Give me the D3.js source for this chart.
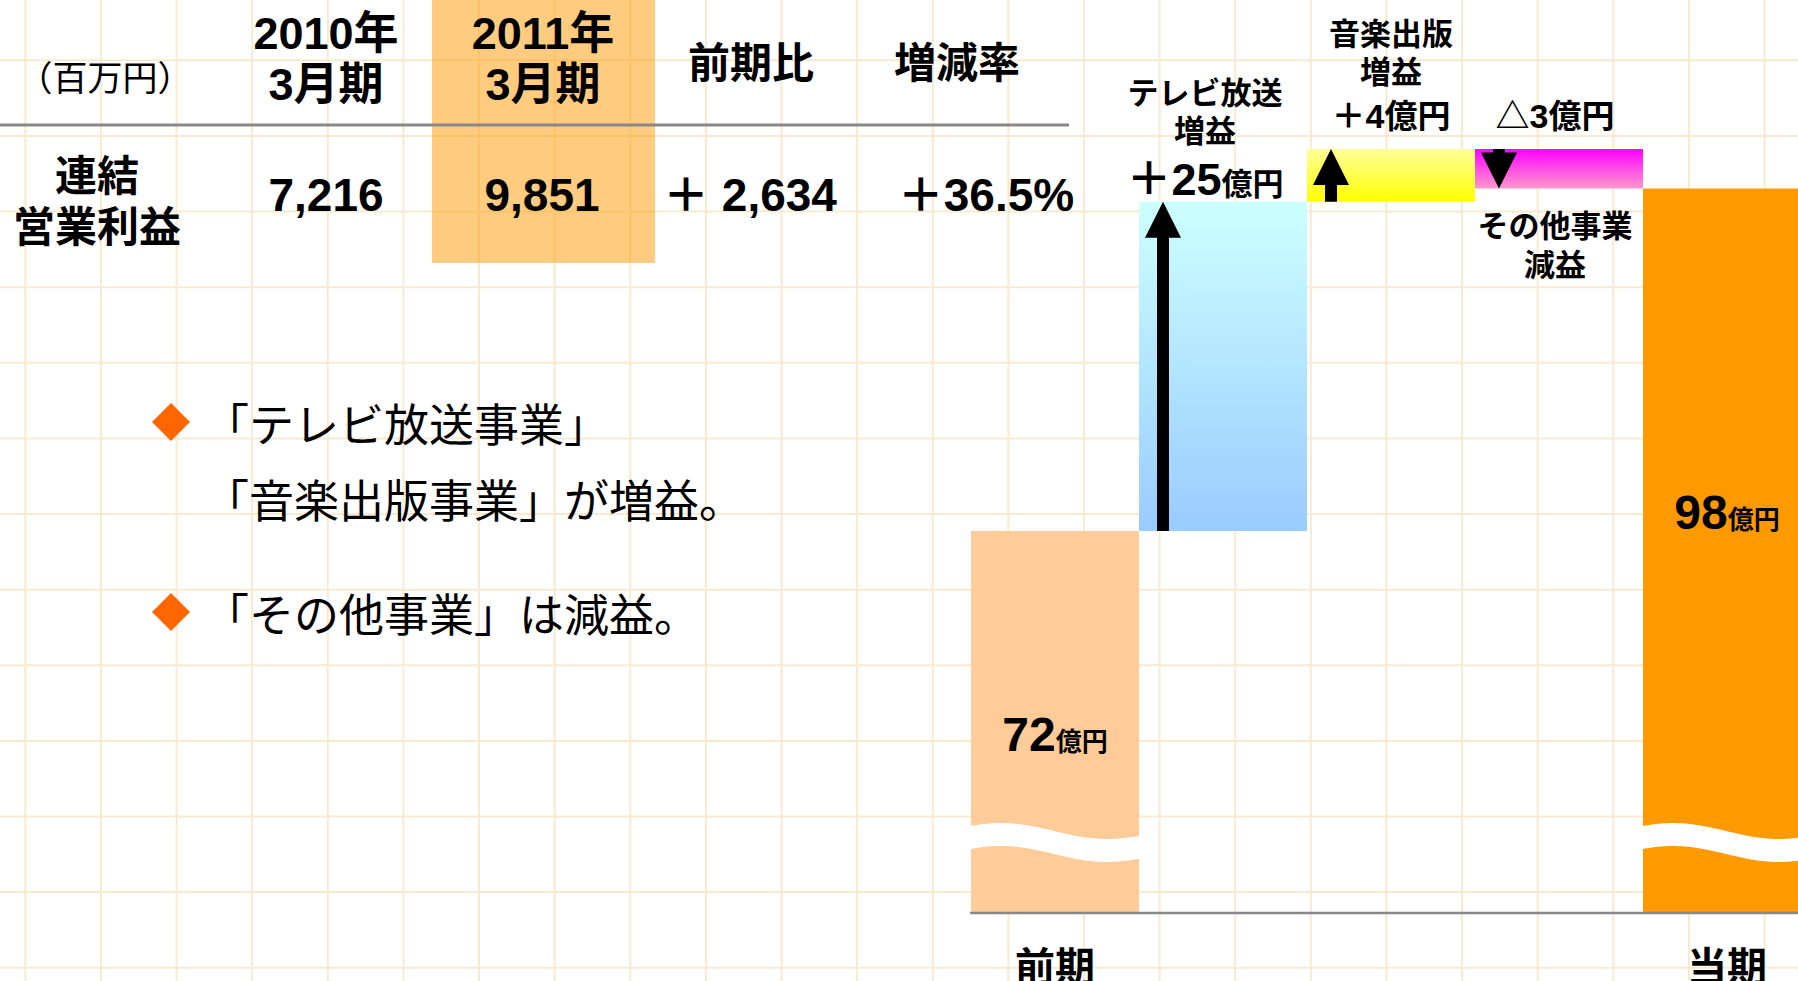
<!DOCTYPE html>
<html lang="ja">
<head>
<meta charset="utf-8">
<title>連結営業利益</title>
<script src="https://cdn.jsdelivr.net/npm/d3@7"></script>
<style>
  html, body { margin: 0; padding: 0; background: #fff; overflow: hidden; }
  svg { display: block; }
</style>
</head>
<body>
<svg id="chart" width="1798" height="981"></svg>
<script>
// ---- table data (百万円)
var unitLabel = '（百万円）';
var rowLabel = ['連結', '営業利益'];
var headYears = ['2010年', '2011年'];
var headPeriod = '3月期';
var headOthers = ['前期比', '増減率'];
var tableValues = ['7,216', '9,851', '＋ 2,634', '＋36.5%'];

// ---- bullet comments
var bullets = [
  ['「テレビ放送事業」', '「音楽出版事業」が増益。'],
  ['「その他事業」は減益。']
];

// ---- waterfall data (億円)
var steps = ['前期', 'テレビ放送', '音楽出版', 'その他事業', '当期'];
var stepValues = [72, 25, 4, -3, 98];
var stepIsTotal = [true, false, false, false, true];
var stepNotes = ['', '増益', '増益', '減益', ''];
var unit = '億円';

var JP = "'Noto Sans CJK JP', sans-serif";
var NUM = "'Liberation Sans', 'Noto Sans CJK JP', sans-serif";

var W = 1798, H = 981;
var svg = d3.select('#chart');

svg.append('rect').attr('width', W).attr('height', H).attr('fill', '#fff');

// graph paper grid
var gridStep = 75.62;
var grid = svg.append('g').attr('stroke', '#f8ead0').attr('stroke-width', 2);
grid.selectAll('line.v').data(d3.range(25.3, W, gridStep)).enter()
  .append('line').attr('class', 'v')
  .attr('x1', function(d){ return d; }).attr('x2', function(d){ return d; })
  .attr('y1', 0).attr('y2', H);
grid.selectAll('line.h').data(d3.range(60.3 - gridStep, H, gridStep)).enter()
  .append('line').attr('class', 'h')
  .attr('y1', function(d){ return d; }).attr('y2', function(d){ return d; })
  .attr('x1', 0).attr('x2', W);

// multi-line centred text as one element
function lines(sel, xPos, yList, texts){
  var t = sel.append('text')
    .attr('text-anchor', 'middle').attr('dominant-baseline', 'central');
  texts.forEach(function(s, j){
    t.append('tspan').attr('x', xPos).attr('y', yList[j])
      .attr('dominant-baseline', 'central').text(s);
  });
  return t;
}

// ---- table
var colX = [326, 543, 751, 957];
var valX = [326, 542, 750, 986];

svg.append('rect')
  .attr('x', 432).attr('y', 0).attr('width', 223).attr('height', 263)
  .attr('fill', '#ff9900').attr('fill-opacity', 0.5);

svg.append('line')
  .attr('x1', 0).attr('x2', 1069).attr('y1', 125).attr('y2', 125)
  .attr('stroke', '#888').attr('stroke-width', 3);

svg.append('text')
  .attr('x', 105).attr('y', 75)
  .attr('text-anchor', 'middle').attr('dominant-baseline', 'central')
  .style('font-family', JP).style('font-size', '35px')
  .text(unitLabel);

headYears.forEach(function(t, i){
  var tx = svg.append('text').attr('text-anchor', 'middle')
    .style('font-family', NUM).style('font-size', '45px').style('font-weight', 700);
  tx.append('tspan').attr('x', colX[i]).attr('y', 49).text(t);
  tx.append('tspan').attr('x', colX[i]).attr('y', 100).text(headPeriod);
});
headOthers.forEach(function(t, i){
  svg.append('text')
    .attr('x', colX[i + 2]).attr('y', 59)
    .attr('text-anchor', 'middle').attr('dominant-baseline', 'central')
    .style('font-family', JP).style('font-size', '42px').style('font-weight', 700)
    .text(t);
});

lines(svg, 97, [172, 223], rowLabel)
  .style('font-family', JP).style('font-size', '42px').style('font-weight', 700);

tableValues.forEach(function(t, i){
  svg.append('text')
    .attr('x', valX[i]).attr('y', 211)
    .attr('text-anchor', 'middle')
    .style('font-family', NUM).style('font-size', '46px').style('font-weight', 700)
    .text(t);
});

// ---- bullets
var lineY = [[422, 498], [612]];
bullets.forEach(function(ls, i){
  var cy = lineY[i][0];
  svg.append('path')
    .attr('d', 'M171,' + (cy - 19) + 'L190,' + cy + 'L171,' + (cy + 19) + 'L152,' + cy + 'Z')
    .attr('fill', '#ff6600');
  var t = svg.append('text')
    .attr('dominant-baseline', 'central')
    .style('font-family', JP).style('font-size', '45px');
  ls.forEach(function(s, j){
    t.append('tspan').attr('x', 204).attr('y', lineY[i][j])
      .attr('dominant-baseline', 'central').text(s);
  });
});

// ---- waterfall
var x = d3.scaleBand().domain(steps).range([971, 1811]).padding(0);
var y = d3.scaleLinear().domain([43, 101]).range([913, 149]); // axis is broken below 72
var floor = y.domain()[0];

var run = 0;
var segs = steps.map(function(s, i){
  var v = stepValues[i], lo, hi;
  if (stepIsTotal[i]) { lo = floor; hi = v; run = v; }
  else { lo = Math.min(run, run + v); hi = Math.max(run, run + v); run += v; }
  return { name: s, value: v, lo: lo, hi: hi, total: stepIsTotal[i], note: stepNotes[i], i: i };
});

var fills = {
  '前期': '#ffcc99',
  'テレビ放送': ['#ccffff', '#99ccff'],
  '音楽出版': ['#ffff99', '#ffff00'],
  'その他事業': ['#ff00ff', '#ff99cc'],
  '当期': '#ff9900'
};

var defs = svg.append('defs');
segs.filter(function(d){ return !d.total; }).forEach(function(d){
  var g = defs.append('linearGradient').attr('id', 'g' + d.i)
    .attr('x1', 0).attr('y1', 0).attr('x2', 0).attr('y2', 1);
  g.append('stop').attr('offset', '0%').attr('stop-color', fills[d.name][0]);
  g.append('stop').attr('offset', '100%').attr('stop-color', fills[d.name][1]);
});

svg.selectAll('rect.bar').data(segs).enter()
  .append('rect').attr('class', 'bar')
  .attr('x', function(d){ return x(d.name); })
  .attr('y', function(d){ return y(d.hi); })
  .attr('width', x.bandwidth())
  .attr('height', function(d){ return y(d.lo) - y(d.hi); })
  .attr('fill', function(d){ return d.total ? fills[d.name] : 'url(#g' + d.i + ')'; });

// wavy break on total bars
var baseY = y(floor);
var wave = function(dx){ return baseY - 82 - 8 * Math.cos(2 * Math.PI * (dx - 30) / 212); };
segs.filter(function(d){ return d.total; }).forEach(function(d){
  var x0 = x(d.name), pts = d3.range(0, x.bandwidth() + 1, 4);
  var top = pts.map(function(dx){ return [x0 + dx, wave(dx)]; });
  var bot = pts.slice().reverse().map(function(dx){ return [x0 + dx, wave(dx) + 23]; });
  svg.append('path')
    .attr('d', 'M' + top.concat(bot).map(function(p){ return p.join(','); }).join('L') + 'Z')
    .attr('fill', '#fff');
});

svg.append('line')
  .attr('x1', x('前期') - 1).attr('x2', W).attr('y1', baseY).attr('y2', baseY)
  .attr('stroke', '#888').attr('stroke-width', 2.5);

// arrows on change bars
segs.filter(function(d){ return !d.total; }).forEach(function(d){
  var cx = x(d.name) + 24, up = d.value > 0;
  var from = up ? y(d.lo) : y(d.hi), tip = up ? y(d.hi) : y(d.lo);
  var s = up ? 1 : -1, hb = tip + s * 36;
  var p = [[cx - 6, from], [cx - 6, hb], [cx - 18, hb], [cx, tip], [cx + 18, hb], [cx + 6, hb], [cx + 6, from]];
  svg.append('path').attr('d', 'M' + p.map(function(q){ return q.join(','); }).join('L') + 'Z').attr('fill', '#000');
});

// total labels
var totalLabelOffset = { '前期': 220, '当期': 340 };
segs.filter(function(d){ return d.total; }).forEach(function(d){
  var t = svg.append('text')
    .attr('x', x(d.name) + x.bandwidth() / 2)
    .attr('y', y(d.hi) + totalLabelOffset[d.name])
    .attr('text-anchor', 'middle')
    .style('font-family', NUM).style('font-weight', 700);
  t.append('tspan').style('font-size', '48px').text(d.value);
  t.append('tspan').style('font-family', JP).style('font-size', '26px').text(unit);

  svg.append('text')
    .attr('x', x(d.name) + x.bandwidth() / 2).attr('y', baseY + 51)
    .attr('text-anchor', 'middle').attr('dominant-baseline', 'central')
    .style('font-family', JP).style('font-size', '40px').style('font-weight', 700)
    .text(d.name);
});

// change labels
var deltaLayout = {
  'テレビ放送': { dx: -18, title: [-112, -74], titleFrom: 'hi', valueDy: -7, numSize: 45, unitSize: 31 },
  '音楽出版':   { dx: 0,   title: [-118, -80], titleFrom: 'hi', valueDy: -21, numSize: 34, unitSize: 33 },
  'その他事業': { dx: -4,  title: [34, 73],    titleFrom: 'lo', valueDy: -21, numSize: 34, unitSize: 33 }
};
segs.filter(function(d){ return !d.total; }).forEach(function(d){
  var L = deltaLayout[d.name];
  var cx = x(d.name) + x.bandwidth() / 2 + L.dx;
  var ref = L.titleFrom === 'hi' ? y(d.hi) : y(d.lo);
  lines(svg, cx, [ref + L.title[0], ref + L.title[1]], [d.name, d.note])
    .style('font-family', JP).style('font-size', '31px').style('font-weight', 700);
  var v = svg.append('text')
    .attr('x', cx).attr('y', y(d.hi) + L.valueDy)
    .attr('text-anchor', 'middle')
    .style('font-family', NUM).style('font-weight', 700);
  v.append('tspan').style('font-size', L.numSize + 'px').text((d.value > 0 ? '＋' : '△') + Math.abs(d.value));
  v.append('tspan').style('font-family', JP).style('font-size', L.unitSize + 'px').text(unit);
});
</script>
</body>
</html>
